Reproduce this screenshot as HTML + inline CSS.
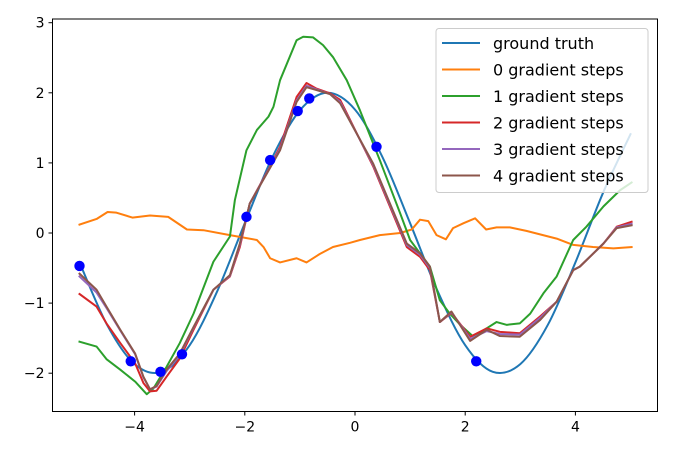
<!DOCTYPE html>
<html><head><meta charset="utf-8"><style>
html,body{margin:0;padding:0;background:#fff;}
svg{display:block;font-family:"DejaVu Sans","Liberation Sans",sans-serif;}
</style></head><body>
<svg id="chart" width="677" height="455" xmlns="http://www.w3.org/2000/svg"></svg>
<script>
const gtX=[-5,-4.5,-4,-3.5,-3,-2.5,-2,-1.5,-1,-0.5,0,0.5,1,1.5,2,2.5,3,3.5,4,4.5,5];
const gtY=[-0.42,-1.31,-1.87,-1.98,-1.60,-0.83,0.14,1.08,1.75,2.0,1.76,1.08,0.14,-0.83,-1.60,-1.98,-1.87,-1.31,-0.42,0.57,1.41];
const s0X=[-5,-4.69,-4.49,-4.33,-4.04,-3.72,-3.39,-3.05,-2.75,-2.27,-1.78,-1.66,-1.54,-1.36,-1.06,-0.88,-0.64,-0.40,-0.09,0.09,0.45,0.82,1.03,1.18,1.33,1.48,1.65,1.78,1.97,2.18,2.38,2.57,2.81,3.11,3.66,3.96,4.32,4.69,5.02];
const s0Y=[0.12,0.20,0.30,0.29,0.22,0.25,0.23,0.05,0.04,-0.03,-0.10,-0.20,-0.36,-0.42,-0.36,-0.42,-0.30,-0.20,-0.14,-0.10,-0.03,0.00,0.05,0.19,0.17,-0.03,-0.09,0.07,0.14,0.21,0.05,0.08,0.08,0.03,-0.08,-0.17,-0.20,-0.22,-0.20];
const s1X=[-5,-4.69,-4.51,-4.26,-3.99,-3.78,-3.66,-3.42,-3.18,-2.93,-2.57,-2.27,-2.18,-1.97,-1.78,-1.57,-1.48,-1.36,-1.06,-0.94,-0.76,-0.58,-0.40,-0.15,0.09,0.45,0.82,1.0,1.18,1.36,1.54,1.72,1.91,2.15,2.39,2.57,2.75,2.99,3.18,3.42,3.66,3.96,4.20,4.51,4.81,5.02];
const s1Y=[-1.55,-1.62,-1.80,-1.95,-2.12,-2.30,-2.22,-1.91,-1.57,-1.15,-0.41,-0.05,0.47,1.18,1.47,1.66,1.80,2.18,2.75,2.80,2.79,2.68,2.51,2.18,1.75,1.04,0.28,-0.10,-0.29,-0.48,-0.96,-1.15,-1.31,-1.48,-1.36,-1.27,-1.31,-1.29,-1.15,-0.86,-0.62,-0.10,0.09,0.38,0.61,0.72];
const s2X=[-5,-4.69,-4.51,-4.26,-3.99,-3.84,-3.72,-3.60,-3.42,-3.18,-2.93,-2.57,-2.27,-2.09,-1.91,-1.54,-1.36,-1.06,-0.88,-0.70,-0.45,-0.27,0.33,0.94,1.18,1.36,1.54,1.75,2.09,2.39,2.63,2.99,3.36,3.66,3.96,4.08,4.51,4.75,5.02];
const s2Y=[-0.87,-1.05,-1.29,-1.57,-1.86,-2.14,-2.26,-2.25,-2.05,-1.79,-1.38,-0.81,-0.62,-0.20,0.42,0.95,1.23,1.94,2.14,2.06,1.99,1.90,0.95,-0.20,-0.34,-0.53,-1.27,-1.14,-1.48,-1.36,-1.41,-1.43,-1.19,-0.98,-0.53,-0.48,-0.15,0.09,0.16];
const s3Y=[-0.62,-0.85,-1.07,-1.39,-1.73,-2.06,-2.23,-2.19,-1.97,-1.74,-1.35,-0.81,-0.61,-0.17,0.42,0.94,1.20,1.89,2.10,2.05,1.98,1.87,0.97,-0.17,-0.31,-0.50,-1.27,-1.13,-1.51,-1.40,-1.44,-1.45,-1.21,-0.98,-0.53,-0.48,-0.15,0.08,0.13];
const s4Y=[-0.58,-0.81,-1.05,-1.38,-1.72,-2.05,-2.23,-2.18,-1.95,-1.72,-1.34,-0.81,-0.60,-0.15,0.42,0.93,1.18,1.87,2.08,2.04,1.98,1.85,0.99,-0.15,-0.29,-0.48,-1.27,-1.12,-1.54,-1.38,-1.47,-1.48,-1.24,-0.98,-0.53,-0.48,-0.15,0.07,0.11];
const ptX=[-5.0,-4.07,-3.53,-3.14,-1.97,-1.54,-1.04,-0.83,0.39,2.2];
const ptY=[-0.47,-1.83,-1.98,-1.73,0.23,1.04,1.74,1.92,1.23,-1.83];
const xTicks=[-4,-2,0,2,4];
const yTicks=[-2,-1,0,1,2,3];
const legendLabels=["ground truth","0 gradient steps","1 gradient steps","2 gradient steps","3 gradient steps","4 gradient steps"];
const colors=["#1f77b4","#ff7f0e","#2ca02c","#d62728","#9467bd","#8c564b"];

const NS="http://www.w3.org/2000/svg";
const svg=document.getElementById("chart");
const L=52.5,R=657.5,T=19,B=411.5;
function sx(v){return 355+v*55.1;}
function sy(v){return 233-v*70.1;}
function mk(tag,attrs,parent){const e=document.createElementNS(NS,tag);for(const k in attrs)e.setAttribute(k,attrs[k]);(parent||svg).appendChild(e);return e;}

xTicks.forEach(t=>{
  const tk=mk("line",{x1:sx(t),x2:sx(t),y1:B,y2:B+4,stroke:"#000","stroke-width":1});
  
  
  const tx=mk("text",{x:sx(t),y:B+20,"text-anchor":"middle","font-size":14,fill:"#000"});
  tx.textContent=(t<0?"\u2212"+Math.abs(t):String(t));
  
  
});
yTicks.forEach(t=>{
  const tk=mk("line",{x1:L-4,x2:L,y1:sy(t),y2:sy(t),stroke:"#000","stroke-width":1});
  
  
  const tx=mk("text",{x:L-8,y:sy(t)+5,"text-anchor":"end","font-size":14,fill:"#000"});
  tx.textContent=(t<0?"\u2212"+Math.abs(t):String(t));
  
  
});

function smoothPath(xs,ys){
  const p=xs.map((x,i)=>[sx(x),sy(ys[i])]);
  let d="M"+p[0][0]+","+p[0][1];
  for(let i=0;i<p.length-1;i++){
    const p0=p[i-1]||p[i],p1=p[i],p2=p[i+1],p3=p[i+2]||p2;
    const c1=[p1[0]+(p2[0]-p0[0])/6,p1[1]+(p2[1]-p0[1])/6];
    const c2=[p2[0]-(p3[0]-p1[0])/6,p2[1]-(p3[1]-p1[1])/6];
    d+=" C"+c1+" "+c2+" "+p2;
  }
  return d;
}
function linePath(xs,ys){return xs.map((x,i)=>(i?"L":"M")+sx(x)+","+sy(ys[i])).join(" ");}

const clip=mk("clipPath",{id:"clip"});
mk("rect",{x:L,y:T,width:R-L,height:B-T},clip);
const g=mk("g",{"clip-path":"url(#clip)"});



const series=[
 ["ground-truth-line",smoothPath(gtX,gtY)],
 ["step0-line",linePath(s0X,s0Y)],
 ["step1-line",linePath(s1X,s1Y)],
 ["step2-line",linePath(s2X,s2Y)],
 ["step3-line",linePath(s2X,s3Y)],
 ["step4-line",linePath(s2X,s4Y)]
];
series.forEach((s,i)=>{
  const p=mk("path",{d:s[1],fill:"none",stroke:colors[i],"stroke-width":2,"stroke-linejoin":"round","stroke-linecap":"square"},g);
  
  
});
ptX.forEach((x,i)=>{
  const c=mk("circle",{cx:sx(x),cy:sy(ptY[i]),r:5.2,fill:"#0000ff"},g);
  
  
});

const frame=mk("rect",{x:L,y:T,width:R-L,height:B-T,fill:"none",stroke:"#000","stroke-width":1});



const lg=mk("g",{});


mk("rect",{x:436,y:28.5,width:212,height:164,rx:3,fill:"#fff","fill-opacity":0.8,stroke:"#ccc","stroke-width":1},lg);
legendLabels.forEach((lab,i)=>{
  const y=43+i*26.5;
  const e=mk("g",{},lg);
  
  
  mk("line",{x1:442,x2:480,y1:y,y2:y,stroke:colors[i],"stroke-width":2},e);
  const t=mk("text",{x:493,y:y+6,"font-size":16,fill:"#000"},e);
  t.textContent=lab;
});
</script>
</body></html>
